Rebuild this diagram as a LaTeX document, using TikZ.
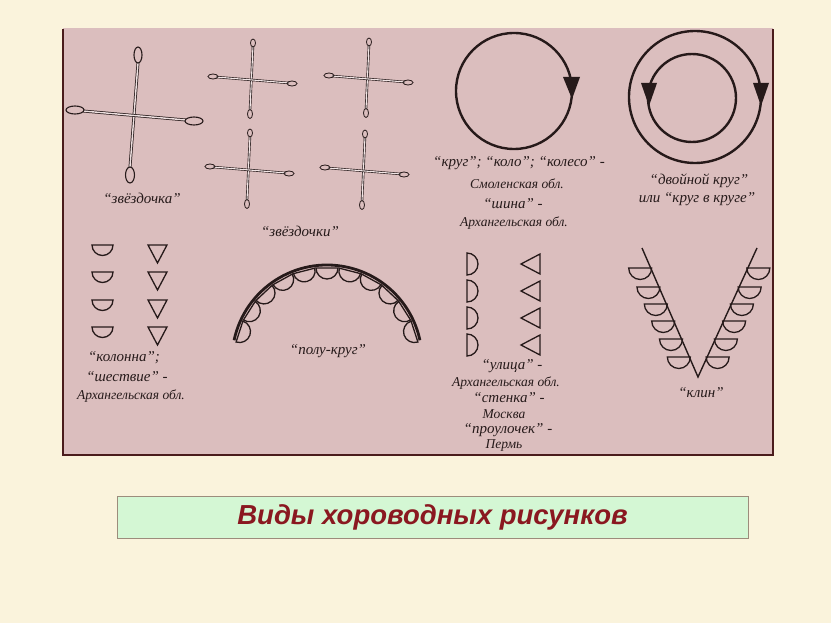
\documentclass[tikz,border=0pt]{standalone}
\usepackage{fontspec}
\setmainfont{Liberation Serif}
\newfontfamily\titlefont{Liberation Sans}
\definecolor{bgcream}{HTML}{FAF3DC}
\definecolor{panelpink}{HTML}{DBBEBE}
\definecolor{panelline}{HTML}{4A1C1C}
\definecolor{ink}{HTML}{261A1A}
\definecolor{titlegreen}{HTML}{D4F7D4}
\definecolor{titlered}{HTML}{8A1820}
\definecolor{titleborder}{HTML}{9C8C7C}
\tikzset{
  lbl/.style={font=\fontsize{15}{17}\selectfont\itshape, text=ink, inner sep=0pt},
  lblsmall/.style={font=\fontsize{13.5}{15}\selectfont\itshape, text=ink, inner sep=0pt},
  bigline/.style={draw=ink, line width=0.75pt, double=panelpink!50!white, double distance=1.4pt},
  sline/.style={draw=ink, line width=0.65pt, double=panelpink!40!white, double distance=1.1pt},
  bigloop/.style={draw=ink, line width=1.1pt},
  sloop/.style={draw=ink, line width=0.8pt},
  ring/.style={draw=ink, line width=2.4pt},
  shapeline/.style={draw=ink, line width=1.3pt},
  arrowtri/.style={fill=ink},
  smallstar/.pic={
    \draw[sline] (0,34) -- (-3,-30);
    \draw[sline] (-37,3) -- (36,-3);
    \draw[sloop] (0,37) ellipse[x radius=2.5, y radius=4];
    \draw[sloop] (-3,-34) ellipse[x radius=2.5, y radius=4.5];
    \draw[sloop] (-40,3.5) ellipse[x radius=5, y radius=2.5];
    \draw[sloop] (39,-3.5) ellipse[x radius=5, y radius=2.5];
  }
}
\begin{document}
\begin{tikzpicture}[x=1pt,y=1pt]
\useasboundingbox (0,0) rectangle (831,-623);
\fill[bgcream] (0,0) rectangle (831,-623);
% panel
\fill[panelpink] (63,-28) rectangle (773,-455);
\draw[panelline, line width=1.2pt] (63,-29) -- (63,-455) -- (773,-455) -- (773,-29);

% big star
\draw[bigline] (138,-63) -- (130,-167);
\draw[bigline] (83,-111) -- (186,-120);
\draw[bigloop] (138,-55) ellipse[x radius=4, y radius=8];
\draw[bigloop] (130,-175) ellipse[x radius=4.5, y radius=8];
\draw[bigloop] (75,-110) ellipse[x radius=9, y radius=4];
\draw[bigloop] (194,-121) ellipse[x radius=9, y radius=4];
\node[lbl] (zv1) at (142,-198) {“звёздочка”};

% small stars
\pic at (253,-80) {smallstar};
\pic at (369,-79) {smallstar};
\pic at (250,-170) {smallstar};
\pic at (365,-171) {smallstar};
\node[lbl] (zv2) at (300,-231) {“звёздочки”};

% circle
\draw[ring] (514,-91) circle[radius=58];
\fill[arrowtri] (563,-77) -- (580,-77) -- (572,-99) -- cycle;
\node[lbl] (kr1) at (519,-163) {“круг”; “коло”; “колесо” -};
\node[lblsmall] (kr2) at (517,-184) {Смоленская обл.};
\node[lbl] (kr3) at (513,-204) {“шина” -};
\node[lblsmall] (kr4) at (514,-223) {Архангельская обл.};

% double circle
\draw[ring] (695,-97) circle[radius=66];
\draw[ring] (692,-98) circle[radius=44];
\fill[arrowtri] (753,-83) -- (769,-83) -- (761,-106) -- cycle;
\fill[arrowtri] (641,-83) -- (657,-83) -- (649,-106) -- cycle;
\node[lbl] (dk1) at (699,-181) {“двойной круг”};
\node[lbl] (dk2) at (697,-199) {или “круг в круге”};

% column
\foreach \yy in {245,272,300,327}{
  \draw[shapeline] (92,-\yy) -- (113,-\yy) arc[start angle=0, end angle=-180, radius=10.5] -- cycle;
  \draw[shapeline] (148,-\yy) -- (167,-\yy) -- (157.5,-\yy-18) -- cycle;
}
\node[lbl] (ko1) at (124,-358) {“колонна”;};
\node[lbl] (ko2) at (127,-377) {“шествие” -};
\node[lblsmall] (ko3) at (131,-396) {Архангельская обл.};

% half circle
\coordinate (pc) at (327,-360);
\draw[ink, line width=2.8pt] (pc) ++(168:95) arc[start angle=168, end angle=12, radius=95];
\foreach \a in {162,147.6,...,17}{
  \begin{scope}[shift={(pc)}, rotate=\a-90]
    \draw[shapeline] (-11,92) -- (11,92) arc[start angle=0, end angle=-180, radius=11] -- cycle;
  \end{scope}
}
\node[lbl] (pk) at (328,-351) {“полу-круг”};

% street
\foreach \yy in {264,291,318,345}{
  \draw[shapeline] (467,-\yy+11) -- (467,-\yy-11) arc[start angle=-90, end angle=90, radius=11] -- cycle;
  \draw[shapeline] (540,-\yy+10) -- (540,-\yy-10) -- (521,-\yy) -- cycle;
}
\node[lbl] (ul1) at (512,-366) {“улица” -};
\node[lblsmall] (ul2) at (506,-383) {Архангельская обл.};
\node[lbl] (ul3) at (509,-398) {“стенка” -};
\node[lblsmall] (ul4) at (504,-414) {Москва};
\node[lbl] (ul5) at (508,-430) {“проулочек” -};
\node[lblsmall] (ul6) at (504,-446) {Пермь};

% wedge
\coordinate (vl) at (642,-248);
\coordinate (vb) at (698,-377);
\coordinate (vr) at (757,-248);
\draw[ink, line width=1.4pt] (vl) -- (vb) -- (vr);
\foreach \yy in {268,287,304,321,339,357}{
  \pgfmathsetmacro\xl{642+(\yy-248)*56/129}
  \pgfmathsetmacro\xr{757-(\yy-248)*59/129}
  \draw[shapeline] (\xl-22,-\yy) -- (\xl+1,-\yy) arc[start angle=0, end angle=-180, radius=11.5] -- cycle;
  \draw[shapeline] (\xr-1,-\yy) -- (\xr+22,-\yy) arc[start angle=0, end angle=-180, radius=11.5] -- cycle;
}
\node[lbl] (kl) at (701,-393) {“клин”};

% title
\node[draw=titleborder, fill=titlegreen, line width=0.8pt, minimum width=631pt, minimum height=42pt, inner sep=0pt] (titlebox) at (432.5,-517) {};
\node[font=\titlefont\bfseries\itshape\fontsize{27.5}{30}\selectfont, text=titlered] (title) at (titlebox.center) {Виды хороводных рисунков};
\end{tikzpicture}
\end{document}
